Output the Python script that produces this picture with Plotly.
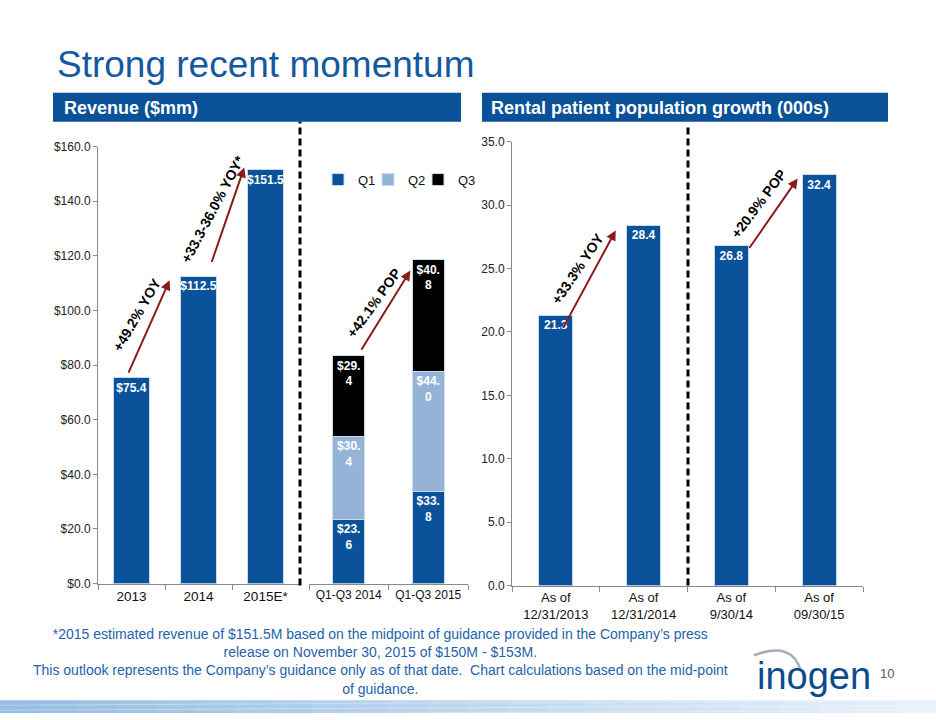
import plotly.graph_objects as go

W, H = 936, 720
FONT = "Arial, Liberation Sans, Helvetica, sans-serif"

# ---------------- data ----------------
rev_years = ["2013", "2014", "2015E*"]
rev_values = [75.4, 112.5, 151.5]

ytd_periods = ["Q1-Q3 2014", "Q1-Q3 2015"]
q1_values = [23.6, 33.8]
q2_values = [30.4, 44.0]
q3_values = [29.4, 40.8]
quarter_names = ["Q1", "Q2", "Q3"]

rental_dates = ["As of<br>12/31/2013", "As of<br>12/31/2014", "As of<br>9/30/14", "As of<br>09/30/15"]
rental_values = [21.3, 28.4, 26.8, 32.4]

growth_labels = ["+49.2% YOY", "+33.3-36.0% YOY*", "+42.1% POP", "+33.3% YOY", "+20.9% POP"]

title_text = "Strong recent momentum"
left_header = "Revenue ($mm)"
right_header = "Rental patient population growth (000s)"
footnote_lines = [
    "*2015 estimated revenue of $151.5M based on the midpoint of guidance provided in the Company\u2019s press",
    "release on November 30, 2015 of $150M - $153M.",
    "This outlook represents the Company\u2019s guidance only as of that date.  Chart calculations based on the mid-point",
    "of guidance.",
]

# ---------------- styles ----------------
BLUE = "#0A5299"
LIGHT = "#95B3D7"
BLACK = "#000000"
QCOLORS = [BLUE, LIGHT, BLACK]
HEADER = "#0A5197"
TITLE = "#14589F"
FOOT = "#1E63AA"
ARROW = "#8B1A1A"
AXIS = "#898989"
OUTLINE = "#C9DBEF"
V_OFF, V_SCALE = 5.0, 0.983  # vertical correction for the capture


def px(x):
    return x / W


def py(y):
    return 1 - ((y - V_OFF) / V_SCALE) / H


def money(v):
    return f"${v:.1f}"


def wrapped(v):
    s = money(v)
    return s[:-1] + "<br>" + s[-1]


fig = go.Figure()

fig.add_trace(go.Bar(
    x=rev_years, y=rev_values, xaxis="x", yaxis="y", width=0.55,
    marker=dict(color=BLUE, line=dict(color=OUTLINE, width=1)),
    text=[money(v) for v in rev_values], textposition="inside",
    insidetextanchor="end", textangle=0,
    textfont=dict(color="white", size=12, family=FONT, weight="bold"),
    showlegend=False, hoverinfo="skip"))

legend_ids = ["legend", "legend2", "legend3"]
for name, vals, col, lg in zip(quarter_names, [q1_values, q2_values, q3_values], QCOLORS, legend_ids):
    fig.add_trace(go.Bar(
        name=name, x=ytd_periods, y=vals, xaxis="x2", yaxis="y2", width=0.4,
        marker=dict(color=col, line=dict(color=OUTLINE, width=1)),
        text=[wrapped(v) for v in vals], textposition="inside",
        insidetextanchor="end", textangle=0,
        textfont=dict(color="white", size=12, family=FONT, weight="bold"),
        legend=lg, hoverinfo="skip"))

fig.add_trace(go.Bar(
    x=rental_dates, y=rental_values, xaxis="x3", yaxis="y3", width=0.39,
    marker=dict(color=BLUE, line=dict(color=OUTLINE, width=1)),
    text=[f"{v:.1f}" for v in rental_values], textposition="inside",
    insidetextanchor="end", textangle=0,
    textfont=dict(color="white", size=12, family=FONT, weight="bold"),
    showlegend=False, hoverinfo="skip"))

xcommon = dict(type="category", showline=True, linecolor=AXIS, linewidth=1,
               ticks="outside", tickson="boundaries", ticklen=5, tickcolor=AXIS,
               showgrid=False, zeroline=False, fixedrange=True)
ycommon = dict(showline=True, linecolor=AXIS, linewidth=1, ticks="outside",
               ticklen=4, tickcolor=AXIS, showgrid=False, zeroline=False,
               tickfont=dict(size=12, color="#222222", family=FONT))


def legend_at(xpix):
    return dict(orientation="h", x=px(xpix), y=py(163), xanchor="left", yanchor="top",
                font=dict(size=13, family=FONT, color="#111111"), itemwidth=30,
                bgcolor="rgba(0,0,0,0)")


fig.update_layout(
    autosize=False,
    width=W, height=H, margin=dict(l=0, r=0, t=0, b=0),
    paper_bgcolor="white", plot_bgcolor="white",
    font=dict(family=FONT, color="#000000"),
    barmode="stack",
    uniformtext=dict(minsize=12, mode="show"),
    xaxis=dict(domain=[px(98), px(299)], anchor="y", range=[-0.5, 2.5],
               tickfont=dict(size=13.5, color="#111111", family=FONT), **xcommon),
    yaxis=dict(domain=[py(583), py(145)], anchor="x", range=[0, 160], dtick=20,
               tickprefix="$", tickformat=".1f", **ycommon),
    xaxis2=dict(domain=[px(309), px(468)], anchor="y2", range=[-0.5, 1.5],
                tickfont=dict(size=12, color="#111111", family=FONT), **xcommon),
    yaxis2=dict(domain=[py(583), py(145)], anchor="x2", range=[0, 160], visible=False),
    xaxis3=dict(domain=[px(512), px(863)], anchor="y3", range=[-0.5, 3.5],
                tickfont=dict(size=13, color="#111111", family=FONT), **xcommon),
    yaxis3=dict(domain=[py(585), py(140)], anchor="x3", range=[0, 35], dtick=5,
                tickformat=".1f", **ycommon),
    legend=legend_at(318),
    legend2=legend_at(368),
    legend3=legend_at(418),
)

shapes = []
# bottom decorative band
n = 24
c0, c1 = (150, 190, 228), (232, 241, 250)
for i in range(n):
    t = i / (n - 1)
    col = tuple(int(c0[k] + (c1[k] - c0[k]) * t) for k in range(3))
    shapes.append(dict(type="rect", xref="paper", yref="paper",
                       x0=px(i * W / n), x1=px((i + 1) * W / n + 1), y0=0, y1=py(700),
                       fillcolor=f"rgb{col}", line=dict(width=0), layer="below"))
for yy in [703, 708, 713]:
    shapes.append(dict(type="line", xref="paper", yref="paper",
                       x0=0, x1=1, y0=py(yy + 2), y1=py(yy - 3),
                       line=dict(color="rgba(255,255,255,0.35)", width=1)))
# header bands
shapes.append(dict(type="rect", xref="paper", yref="paper", x0=px(53), x1=px(461),
                   y0=py(120), y1=py(91), fillcolor=HEADER, line=dict(width=0)))
shapes.append(dict(type="rect", xref="paper", yref="paper", x0=px(482), x1=px(888),
                   y0=py(120), y1=py(91), fillcolor=HEADER, line=dict(width=0)))
# dashed dividers
shapes.append(dict(type="line", xref="paper", yref="paper", x0=px(300), x1=px(300),
                   y0=py(585), y1=py(120), line=dict(color="black", width=3, dash="7px,4px")))
shapes.append(dict(type="line", xref="paper", yref="paper", x0=px(688), x1=px(688),
                   y0=py(585), y1=py(124), line=dict(color="black", width=3, dash="7px,4px")))
# logo swoosh
shapes.append(dict(type="path", xref="paper", yref="paper",
                   path=f"M {px(754)} {py(655)} Q {px(792)} {py(640)} {px(801)} {py(671)}",
                   line=dict(color="#A3AABA", width=2.5)))
fig.update_layout(shapes=shapes)

ann = []
ann.append(dict(text=title_text, xref="paper", yref="paper", x=px(55), y=py(63),
                xanchor="left", yanchor="middle", showarrow=False,
                font=dict(size=37, color=TITLE, family=FONT)))
ann.append(dict(text=f"<b>{left_header}</b>", xref="paper", yref="paper", x=px(62), y=py(106),
                xanchor="left", yanchor="middle", showarrow=False,
                font=dict(size=18, color="white", family=FONT)))
ann.append(dict(text=f"<b>{right_header}</b>", xref="paper", yref="paper", x=px(489), y=py(106),
                xanchor="left", yanchor="middle", showarrow=False,
                font=dict(size=18, color="white", family=FONT)))

# growth arrows (tail -> head) in each panel's data coordinates
arrows = [
    ("x", "y", -0.054, 76.7, 0.569, 111.1),
    ("x", "y", 1.189, 117.2, 1.683, 152.4),
    ("x2", "y2", 0.147, 85.1, 0.775, 114.6),
    ("x3", "y3", 0.073, 20.2, 0.682, 28.0),
    ("x3", "y3", 2.193, 26.5, 2.756, 32.1),
]
for xr, yr, tx, ty, hx, hy in arrows:
    ann.append(dict(text="", xref=xr, yref=yr, x=hx, y=hy, axref=xr, ayref=yr, ax=tx, ay=ty,
                    showarrow=True, arrowhead=2, arrowsize=1, arrowwidth=2,
                    arrowcolor=ARROW, standoff=0, startstandoff=0))
label_pos = [
    ("x", "y", 0.089, 98.6, -60),
    ("x", "y", 1.212, 137.2, -62),
    ("x2", "y2", 0.314, 102.8, -54),
    ("x3", "y3", 0.256, 25.0, -56),
    ("x3", "y3", 2.307, 30.1, -53),
]
for (xr, yr, lx, ly, ang), lab in zip(label_pos, growth_labels):
    ann.append(dict(text=f"<b>{lab}</b>", xref=xr, yref=yr, x=lx, y=ly, textangle=ang,
                    xanchor="center", yanchor="middle", showarrow=False,
                    font=dict(size=14, color="black", family=FONT)))

ann.append(dict(text="<br>".join(footnote_lines), xref="paper", yref="paper",
                x=px(380), y=py(661), xanchor="center", yanchor="middle", align="center",
                showarrow=False, font=dict(size=14, color=FOOT, family=FONT)))
ann.append(dict(text="inogen", xref="paper", yref="paper", x=px(755), y=py(676),
                xanchor="left", yanchor="middle", showarrow=False,
                font=dict(size=38, color="#0D4B8E", family=FONT)))
ann.append(dict(text="10", xref="paper", yref="paper", x=px(878), y=py(673),
                xanchor="left", yanchor="middle", showarrow=False,
                font=dict(size=13, color="#555555", family=FONT)))

fig.update_layout(annotations=ann)

fig.write_html(
    "out.html",
    config={"responsive": False, "displayModeBar": False},
    post_script="document.body.style.margin='0';document.body.style.padding='0';"
                "document.body.style.overflow='hidden';",
)
